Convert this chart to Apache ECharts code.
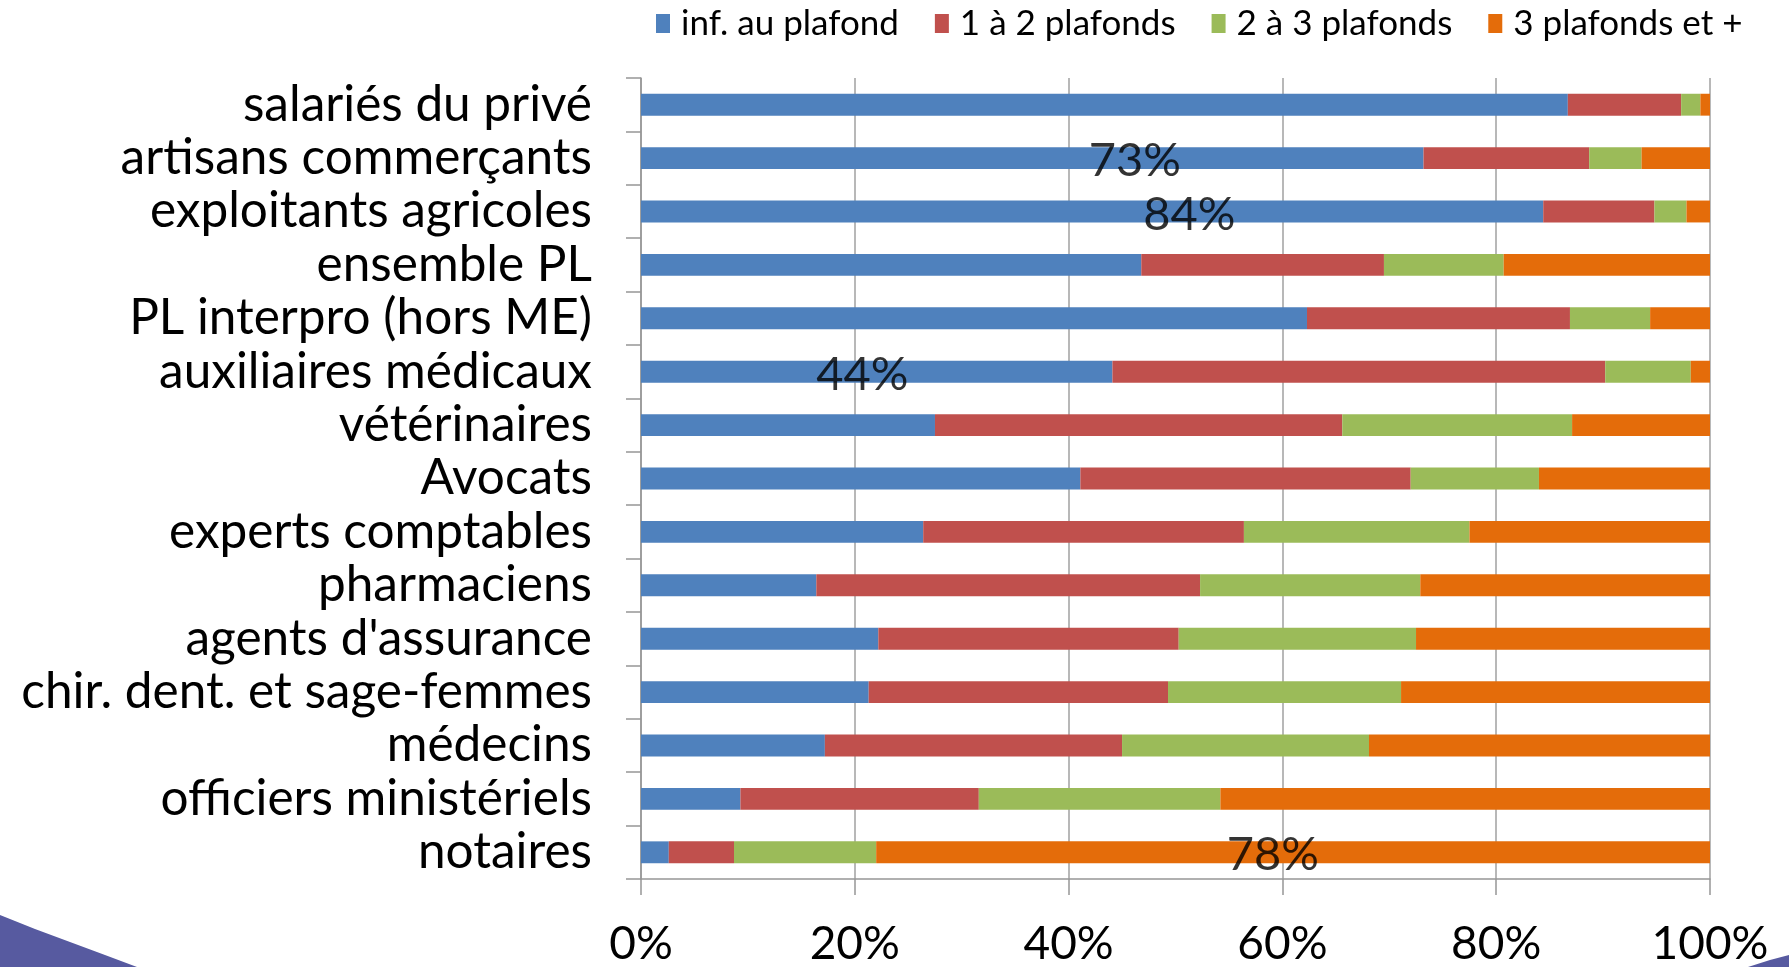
<!DOCTYPE html>
<html>
<head>
<meta charset="utf-8">
<script src="https://cdn.jsdelivr.net/npm/echarts@6/dist/echarts.min.js"></script>
<style>
html,body{margin:0;padding:0;background:#fff;}
#chart{width:1789px;height:967px;}
</style>
</head>
<body>
<div id="chart"></div>
<script>
var categories = ["salariés du privé","artisans commerçants","exploitants agricoles","ensemble PL","PL interpro (hors ME)","auxiliaires médicaux","vétérinaires","Avocats","experts comptables","pharmaciens","agents d'assurance","chir. dent. et sage-femmes","médecins","officiers ministériels","notaires"];
var seriesNames = ["inf. au plafond","1 à 2 plafonds","2 à 3 plafonds","3 plafonds et +"];
var infPlafond   = [86.7, 73.2, 84.4, 46.8, 62.3, 44.1, 27.5, 41.1, 26.4, 16.4, 22.2, 21.3, 17.2, 9.3, 2.6];
var unADeux      = [10.6, 15.5, 10.4, 22.7, 24.6, 46.1, 38.1, 30.9, 30.0, 35.9, 28.1, 28.0, 27.8, 22.3, 6.1];
var deuxATrois   = [1.8, 4.9, 3.0, 11.2, 7.5, 8.0, 21.5, 12.0, 21.1, 20.6, 22.2, 21.8, 23.1, 22.6, 13.3];
var troisEtPlus  = [0.9, 6.4, 2.2, 19.3, 5.6, 1.8, 12.9, 16.0, 22.5, 27.1, 27.5, 28.9, 31.9, 45.8, 78.0];
var xTickLabels  = ["0%","20%","40%","60%","80%","100%"];
var annoText = ["73%","84%","44%","78%"];
var annoX    = [46.2, 51.3, 20.7, 59.1];
var annoCat  = ["artisans commerçants","exploitants agricoles","auxiliaires médicaux","notaires"];
var colors = ["#4F81BD","#C0504D","#9BBB59","#E46C0A"];

var FONT = "Lato";
var chart = echarts.init(document.getElementById('chart'));
var values = [infPlafond, unADeux, deuxATrois, troisEtPlus];
var series = values.map(function(v, i){
  return {
    name: seriesNames[i], type: 'bar', stack: 'total', data: v,
    barWidth: '41%',
    itemStyle: {color: colors[i]},
    emphasis: {disabled: true}
  };
});
series.push({
  type: 'scatter', symbolSize: 0, silent: true,
  data: annoText.map(function(t, i){ return {value: [annoX[i], annoCat[i]], name: t}; }),
  label: {show: true, position: 'inside', formatter: function(p){ return p.name; },
          color: '#000', fontSize: 47, fontFamily: FONT, offset: [0, 3],
          textBorderWidth: 0, textShadowBlur: 0},
  z: 10
});

chart.setOption({
  animation: false,
  color: colors,
  textStyle: {fontFamily: FONT},
  legend: {
    data: seriesNames,
    left: 651, top: 1,
    itemWidth: 14, itemHeight: 19, itemGap: 36,
    icon: 'rect',
    textStyle: {fontSize: 35, color: '#000', fontFamily: FONT, padding: [0,0,0,6]}
  },
  grid: {left: 641, right: 79, top: 78, bottom: 87, containLabel: false},
  xAxis: {
    type: 'value', min: 0, max: 100, interval: 20,
    axisLine: {show: true, lineStyle: {color: '#969696', width: 1.5}},
    axisTick: {show: true, length: 16, lineStyle: {color: '#969696', width: 1.5}},
    splitLine: {show: true, lineStyle: {color: '#A0A0A0', width: 1.5}},
    axisLabel: {fontSize: 46, color: '#000', margin: 42, fontFamily: FONT,
      formatter: function(v){ return xTickLabels[Math.round(v/20)]; }}
  },
  yAxis: {
    type: 'category', data: categories, inverse: true,
    axisLine: {show: true, lineStyle: {color: '#969696', width: 1.5}},
    axisTick: {show: true, length: 15, lineStyle: {color: '#969696', width: 1.5}},
    axisLabel: {fontSize: 49.5, color: '#000', margin: 49, fontFamily: FONT, interval: 0}
  },
  graphic: [
    {type: 'polygon', shape: {points: [[0,915],[35,929],[70,942],[105,955],[137,967],[0,967]]}, style: {fill: '#575AA0'}},
    {type: 'polygon', shape: {points: [[1748,967],[1770,960],[1789,955],[1789,967]]}, style: {fill: '#575AA0'}}
  ],
  series: series
});
</script>
</body>
</html>
